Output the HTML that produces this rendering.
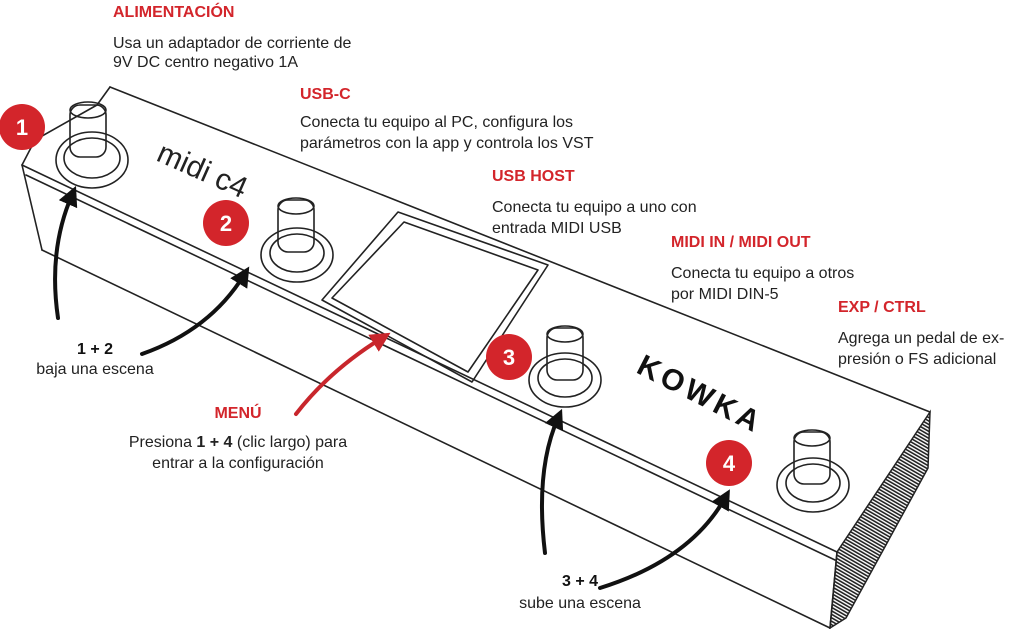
<!DOCTYPE html>
<html><head><meta charset="utf-8"><style>
html,body{margin:0;padding:0;background:#fff;}
svg{display:block;}
text{font-family:"Liberation Sans",sans-serif;}
.h{fill:#d3252b;font-weight:bold;font-size:16px;}
.t{fill:#222;font-size:16px;}
.b{fill:#111;font-weight:bold;font-size:16px;}
</style></head><body>
<svg width="1024" height="629" viewBox="0 0 1024 629" xmlns="http://www.w3.org/2000/svg">
<defs>
<marker id="ah" viewBox="0 0 10 10" refX="5" refY="5" markerWidth="5" markerHeight="5" orient="auto"><path d="M0,0 L10,5 L0,10 Z" fill="#111"/></marker>
<marker id="ahr" viewBox="0 0 10 10" refX="5" refY="5" markerWidth="5" markerHeight="5" orient="auto"><path d="M0,0 L10,5 L0,10 Z" fill="#c8262c"/></marker>
<pattern id="hat" width="3" height="3" patternUnits="userSpaceOnUse" patternTransform="rotate(-60)"><rect width="3" height="3" fill="#fff"/><rect width="1.6" height="3" fill="#222"/></pattern>
</defs>
<polygon points="930,412 837,552 830,628 846,618 928,468" fill="url(#hat)" stroke="#222" stroke-width="1.5"/>
<g fill="none" stroke="#222" stroke-width="1.6" stroke-linejoin="round" stroke-linecap="round">
<!-- body -->
<path d="M110,87 L930,412"/>
<path d="M110,87 L97,105 L35,140 L22,165"/>
<path d="M22,165 L837,552"/>
<path d="M26,175 L835,560"/>
<path d="M22,165 L42,250"/>
<path d="M42,250 L830,628"/>
<path d="M837,552 L830,628"/>
<!-- screen -->
<path d="M398,212 L548,265 L472,382 L322,300 Z"/>
<path d="M404,222 L538,270 L468,372 L332,298 Z"/>
<!-- footswitches -->
<g>
<ellipse cx="92" cy="160" rx="36" ry="28"/><ellipse cx="92" cy="158" rx="28" ry="20"/>
<rect x="70" y="105" width="36" height="52" rx="10"/><ellipse cx="88" cy="110" rx="18" ry="8"/>
<ellipse cx="297" cy="255" rx="36" ry="27"/><ellipse cx="297" cy="253" rx="27" ry="19"/>
<rect x="278" y="200" width="36" height="52" rx="10"/><ellipse cx="296" cy="206" rx="18" ry="8"/>
<ellipse cx="565" cy="380" rx="36" ry="27"/><ellipse cx="565" cy="378" rx="27" ry="19"/>
<rect x="547" y="328" width="36" height="52" rx="10"/><ellipse cx="565" cy="334" rx="18" ry="8"/>
<ellipse cx="813" cy="485" rx="36" ry="27"/><ellipse cx="813" cy="483" rx="27" ry="19"/>
<rect x="794" y="432" width="36" height="52" rx="10"/><ellipse cx="812" cy="438" rx="18" ry="8"/>
</g>
</g>
<!-- logos -->
<text x="155" y="160" transform="rotate(24 155 160)" style="font-size:30px;fill:#222;">midi c4</text>
<text x="635" y="372" transform="rotate(27 635 372)" style="font-size:30px;fill:#111;font-weight:bold;letter-spacing:4px">KOWKA</text>
<!-- arrows -->
<g fill="none" stroke="#111" stroke-width="4" stroke-linecap="round">
<path d="M58,318 Q48,250 72,195" marker-end="url(#ah)"/>
<path d="M142,354 Q210,330 244,275" marker-end="url(#ah)"/>
<path d="M545,553 Q535,470 558,418" marker-end="url(#ah)"/>
<path d="M600,588 Q690,560 725,498" marker-end="url(#ah)"/>
<path d="M296,414 Q330,370 382,338" stroke="#c8262c" marker-end="url(#ahr)"/>
</g>
<!-- number badges -->
<g fill="#d3252b">
<circle cx="22" cy="127" r="23"/><circle cx="226" cy="223" r="23"/><circle cx="509" cy="357" r="23"/><circle cx="729" cy="463" r="23"/>
</g>
<g fill="#fff" font-weight="bold" font-size="22" text-anchor="middle">
<text x="22" y="135">1</text><text x="226" y="231">2</text><text x="509" y="365">3</text><text x="729" y="471">4</text>
</g>
<!-- labels -->
<text class="h" x="113" y="17">ALIMENTACIÓN</text>
<text class="t" x="113" y="48">Usa un adaptador de corriente de</text>
<text class="t" x="113" y="67">9V DC centro negativo 1A</text>
<text class="h" x="300" y="99">USB-C</text>
<text class="t" x="300" y="127">Conecta tu equipo al PC, configura los</text>
<text class="t" x="300" y="148">parámetros con la app y controla los VST</text>
<text class="h" x="492" y="181">USB HOST</text>
<text class="t" x="492" y="212">Conecta tu equipo a uno con</text>
<text class="t" x="492" y="233">entrada MIDI USB</text>
<text class="h" x="671" y="247">MIDI IN / MIDI OUT</text>
<text class="t" x="671" y="278">Conecta tu equipo a otros</text>
<text class="t" x="671" y="299">por MIDI DIN-5</text>
<text class="h" x="838" y="312">EXP / CTRL</text>
<text class="t" x="838" y="343">Agrega un pedal de ex-</text>
<text class="t" x="838" y="364">presión o FS adicional</text>
<text class="b" x="95" y="354" text-anchor="middle">1 + 2</text>
<text class="t" x="95" y="374" text-anchor="middle">baja una escena</text>
<text class="h" x="238" y="418" text-anchor="middle">MENÚ</text>
<text class="t" x="238" y="447" text-anchor="middle">Presiona <tspan font-weight="bold">1 + 4</tspan> (clic largo) para</text>
<text class="t" x="238" y="468" text-anchor="middle">entrar a la configuración</text>
<text class="b" x="580" y="586" text-anchor="middle">3 + 4</text>
<text class="t" x="580" y="608" text-anchor="middle">sube una escena</text>
</svg>
</body></html>
